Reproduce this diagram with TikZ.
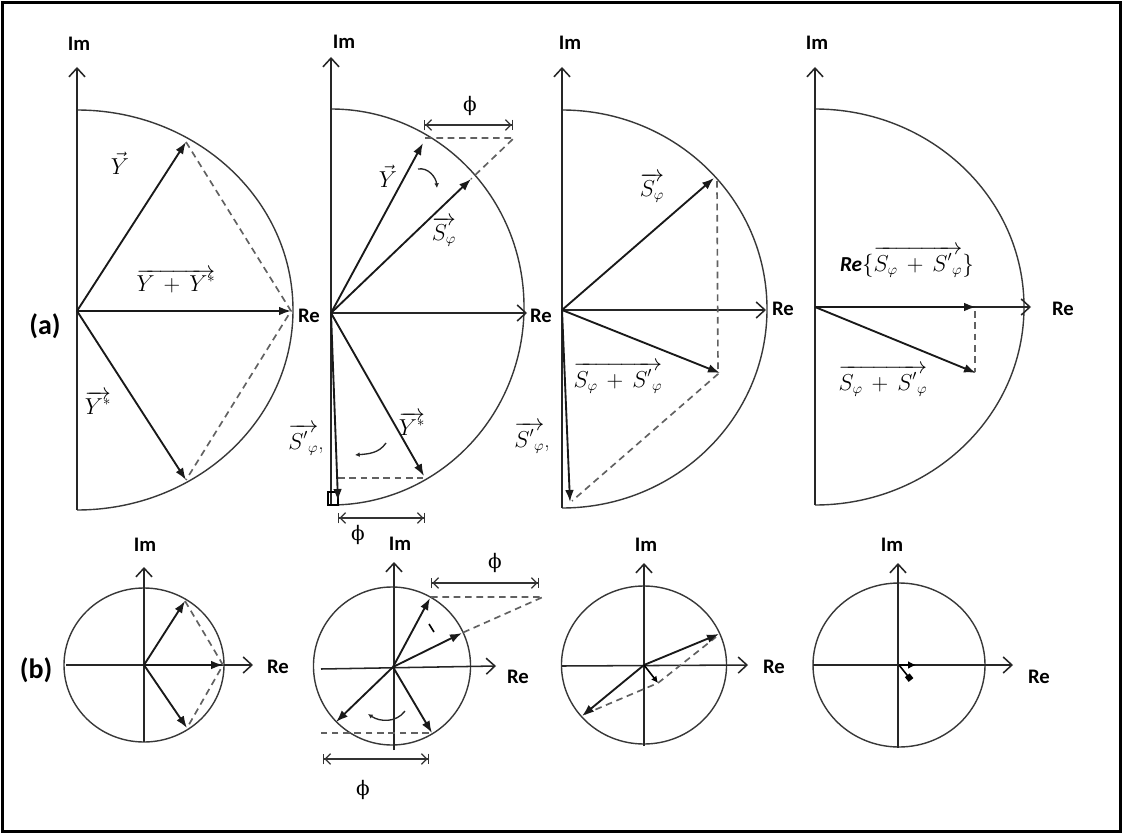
\documentclass[tikz,border=0pt]{standalone}
\usepackage{fontspec}
\usetikzlibrary{arrows.meta}
\newfontfamily\carl{Carlito}
\newfontfamily\phif{DejaVu Serif}
\begin{document}
\begin{tikzpicture}[x=0.75pt,y=-0.75pt,
  arcl/.style={line width=1.05pt,draw=black!78},
  axisl/.style={line width=1.15pt,draw=black!85,-{Straight Barb[length=6.5pt,width=12pt,line width=1.15pt]}},
  vec/.style={line width=1.4pt,draw=black!90,-{Latex[length=9pt,width=6.5pt]}},
  dsh/.style={line width=1.25pt,draw=black!62,dash pattern=on 5pt off 3.5pt},
  dimar/.style={line width=1pt,draw=black!80,{Bar[width=8pt]Straight Barb[length=4pt,width=8pt,line width=1pt]}-{Straight Barb[length=4pt,width=8pt,line width=1pt]Bar[width=8pt]}},
  rot/.style={line width=1pt,draw=black!85,-{Latex[length=3.5pt,width=3.5pt]}},
  axlab/.style={font=\carl\bfseries\fontsize{15.5}{17}\selectfont,inner sep=0pt},
  mlab/.style={font=\fontsize{16}{19}\selectfont,inner sep=0pt},
  philab/.style={font=\phif\fontsize{15}{18}\selectfont,inner sep=0pt}]
\useasboundingbox (0,0) rectangle (1123,834);
\fill[white] (0,0) rectangle (1123,834);
\draw[line width=2.2pt] (2.5,2.5) rectangle (1120.5,831.5);

% ===================== Panel (a)1 =====================
\coordinate (O1) at (77,311);
\coordinate (I1t) at (77,67);
\coordinate (I1b) at (77,510);
\coordinate (R1) at (291,311);
\coordinate (Y1) at (186,142);
\coordinate (Ys1) at (186,480);
\draw[arcl] (77,110) arc[start angle=90,end angle=-90,x radius=162pt,y radius=150pt];
\draw[axisl] (I1b) -- (I1t);
\draw[dsh] (Y1) -- (R1) -- (Ys1);
\draw[vec] (O1) -- (R1);
\draw[vec] (O1) -- (Y1);
\draw[vec] (O1) -- (Ys1);
\node[axlab] (im1) at (79,44) {Im};
\node[axlab] (re1) at (309,316) {Re};
\node[axlab,font=\carl\bfseries\fontsize{21}{23}\selectfont] (alab) at (45,326) {(a)};
\node[mlab] (lY1) at (120,163) {$\vec{Y}$};
\node[mlab] (lYY1) at (176,281) {$\overrightarrow{Y \mathbin{\,+\,} Y^{*}}$};
\node[mlab] (lYs1) at (98,403) {$\overrightarrow{Y^{*}}$};

% ===================== Panel (a)2 =====================
\coordinate (O2) at (331,313);
\coordinate (I2t) at (331,57);
\coordinate (I2b) at (331,505);
\coordinate (R2) at (527,313);
\coordinate (Y2) at (423,143);
\coordinate (S2) at (471,179);
\coordinate (Ys2) at (424,476);
\coordinate (Sp2) at (338,501);
\coordinate (D2a) at (425,138);
\coordinate (D2b) at (514,138);
\coordinate (D2c) at (338,478);
\coordinate (D2d) at (423,478);
\coordinate (M2a) at (424,125);
\coordinate (M2b) at (513,125);
\coordinate (M2c) at (338,518);
\coordinate (M2d) at (425,518);
\draw[arcl] (331,109) arc[start angle=90,end angle=-90,x radius=144.75pt,y radius=148.5pt];
\draw[axisl] (I2b) -- (I2t);
\draw[axisl] (O2) -- (R2);
\draw[line width=0.9pt] (328,492) rectangle (338,505);
\draw[dsh] (D2a) -- (D2b) -- (S2);
\draw[dsh] (D2c) -- (D2d);
\draw[vec] (O2) -- (Y2);
\draw[vec] (O2) -- (S2);
\draw[vec] (O2) -- (Ys2);
\draw[vec] (O2) -- (Sp2);
\draw[dimar] (M2a) -- (M2b);
\draw[dimar] (M2c) -- (M2d);
\coordinate (c2a) at (418,169); \coordinate (c2b) at (437,188);
\draw[rot] (c2a) to[out=10,in=95] (c2b);
\coordinate (c2c) at (386,443); \coordinate (c2d) at (355,455);
\draw[rot] (c2c) to[out=235,in=5] (c2d);
\node[axlab] (im2) at (344,42) {Im};
\node[axlab] (re2) at (541,316) {Re};
\node[philab] (ph2a) at (470,106) {ϕ};
\node[philab] (ph2b) at (358,535) {ϕ};
\node[mlab] (lY2) at (388,176) {$\vec{Y}$};
\node[mlab] (lS2) at (444,232) {$\overrightarrow{S_{\varphi}}$};
\node[mlab] (lYs2) at (412,424) {$\overrightarrow{Y^{*}}$};
\node[mlab] (lSp2) at (306,440) {$\overrightarrow{S'{}_{\varphi}}$,};

% ===================== Panel (a)3 =====================
\coordinate (O3) at (562,310);
\coordinate (I3t) at (562,67);
\coordinate (I3b) at (562,508);
\coordinate (R3) at (766,310);
\coordinate (S3) at (714,178);
\coordinate (Sum3) at (720,373);
\coordinate (Sp3) at (570,502);
\coordinate (D3a) at (717,181);
\coordinate (D3b) at (718,374);
\coordinate (D3c) at (572,501);
\draw[arcl] (562,110) arc[start angle=90,end angle=-90,x radius=153.75pt,y radius=149.25pt];
\draw[axisl] (I3b) -- (I3t);
\draw[axisl] (O3) -- (R3);
\draw[dsh] (D3a) -- (D3b) -- (D3c);
\draw[vec] (O3) -- (S3);
\draw[vec] (O3) -- (Sum3);
\draw[vec] (O3) -- (Sp3);
\node[axlab] (im3) at (570,43) {Im};
\node[axlab] (re3) at (783,309) {Re};
\node[mlab] (lS3) at (652,188) {$\overrightarrow{S_{\varphi}}$};
\node[mlab] (lSum3) at (618,378) {$\overrightarrow{S_{\varphi} \mathbin{\,+\,} S'{}_{\varphi}}$};
\node[mlab] (lSp3) at (532,438) {$\overrightarrow{S'{}_{\varphi}}$,};

% ===================== Panel (a)4 =====================
\coordinate (O4) at (815,307);
\coordinate (I4t) at (815,67);
\coordinate (I4b) at (815,505);
\coordinate (R4) at (1031,307);
\coordinate (Rs4) at (976,307);
\coordinate (Sum4) at (976,373);
\coordinate (D4a) at (975,311);
\coordinate (D4b) at (975,372);
\draw[arcl] (815,109) arc[start angle=90,end angle=-90,x radius=156.75pt,y radius=148.5pt];
\draw[axisl] (I4b) -- (I4t);
\draw[axisl] (O4) -- (R4);
\draw[dsh] (D4a) -- (D4b);
\draw[vec] (O4) -- (Rs4);
\draw[vec] (O4) -- (Sum4);
\node[axlab] (im4) at (817,43) {Im};
\node[axlab] (re4) at (1063,309) {Re};
\node[mlab] (lRe4) at (907,262) {{\carl\bfseries\itshape Re}$\{\overrightarrow{S_{\varphi} \mathbin{\,+\,} S'{}_{\varphi}}\}$};
\node[mlab] (lSum4) at (883,381) {$\overrightarrow{S_{\varphi} \mathbin{\,+\,} S'{}_{\varphi}}$};

% ===================== Panel (b)1 =====================
\coordinate (B1) at (144,665);
\coordinate (B1t) at (144,567);
\coordinate (B1b) at (144,742);
\coordinate (B1l) at (66,665);
\coordinate (B1r) at (253,665);
\coordinate (B1y) at (185,601);
\coordinate (B1s) at (223,665);
\coordinate (B1ys) at (187,728);
\draw[arcl] (B1) ellipse[x radius=60pt,y radius=57.75pt];
\draw[axisl] (B1b) -- (B1t);
\draw[axisl] (B1l) -- (B1r);
\draw[dsh] (B1y) -- (B1s) -- (B1ys);
\draw[vec] (B1) -- (B1y);
\draw[vec] (B1) -- (B1s);
\draw[vec] (B1) -- (B1ys);
\node[axlab] (im5) at (145,545) {Im};
\node[axlab] (re5) at (278,667) {Re};
\node[axlab,font=\carl\bfseries\fontsize{21}{23}\selectfont] (blab) at (36,670) {(b)};

% ===================== Panel (b)2 =====================
\coordinate (B2) at (393,667);
\coordinate (B2c) at (392,666);
\coordinate (B2t) at (394,562);
\coordinate (B2b) at (394,750);
\coordinate (B2l) at (321,669);
\coordinate (B2r) at (496,666);
\coordinate (B2y) at (430,598);
\coordinate (B2s) at (462,633);
\coordinate (B2ys) at (432,733);
\coordinate (B2sp) at (336,722);
\coordinate (E2a) at (431,597);
\coordinate (E2b) at (543,597);
\coordinate (E2c) at (429,733);
\coordinate (E2d) at (321,733);
\coordinate (N2a) at (431,583);
\coordinate (N2b) at (539,583);
\coordinate (N2c) at (323,759);
\coordinate (N2d) at (429,759);
\draw[arcl] (B2c) ellipse[x radius=58.9pt,y radius=59.25pt];
\draw[axisl] (B2b) -- (B2t);
\draw[axisl] (B2l) -- (B2r);
\draw[dsh] (E2a) -- (E2b) -- (B2s);
\draw[dsh] (E2c) -- (E2d);
\draw[vec] (B2) -- (B2y);
\draw[vec] (B2) -- (B2s);
\draw[vec] (B2) -- (B2ys);
\draw[vec] (B2) -- (B2sp);
\draw[dimar] (N2a) -- (N2b);
\draw[dimar] (N2c) -- (N2d);
\coordinate (t2a) at (429,624); \coordinate (t2b) at (434,632);
\draw[line width=1.2pt] (t2a) -- (t2b);
\coordinate (t2c) at (405,711); \coordinate (t2d) at (368,714);
\draw[rot] (t2c) .. controls (396,723) and (380,722) .. (t2d);
\node[axlab] (im6) at (400,544) {Im};
\node[axlab] (re6) at (518,677) {Re};
\node[philab] (ph6a) at (495,563) {ϕ};
\node[philab] (ph6b) at (363,790) {ϕ};

% ===================== Panel (b)3 =====================
\coordinate (B3) at (644,665);
\coordinate (B3t) at (644,563);
\coordinate (B3b) at (644,746);
\coordinate (B3l) at (562,666);
\coordinate (B3r) at (748,665);
\coordinate (B3s) at (719,634);
\coordinate (B3sp) at (582,716);
\coordinate (B3sum) at (658,683);
\coordinate (E3a) at (585,714);
\coordinate (E3b) at (716,637);
\draw[arcl] (B3) ellipse[x radius=61.9pt,y radius=59.25pt];
\draw[axisl] (B3b) -- (B3t);
\draw[axisl] (B3l) -- (B3r);
\draw[dsh] (E3a) -- (B3sum) -- (E3b);
\draw[vec] (B3) -- (B3s);
\draw[vec] (B3) -- (B3sp);
\draw[line width=1.2pt,-{Latex[length=5pt,width=5pt]}] (B3) -- (B3sum);
\node[axlab] (im7) at (646,545) {Im};
\node[axlab] (re7) at (774,667) {Re};

% ===================== Panel (b)4 =====================
\coordinate (B4) at (899,665);
\coordinate (B4t) at (898,563);
\coordinate (B4b) at (898,748);
\coordinate (B4l) at (813,665);
\coordinate (B4r) at (1013,665);
\coordinate (B4re) at (916,665);
\coordinate (B4sum) at (911,680);
\draw[arcl] (B4) ellipse[x radius=64.5pt,y radius=61.5pt];
\draw[axisl] (B4b) -- (B4t);
\draw[axisl] (B4l) -- (B4r);
\draw[line width=1.2pt,-{Latex[length=6pt,width=6pt]}] (B4) -- (B4re);
\draw[line width=1.2pt,-{Square[length=4.5pt,width=4.5pt]}] (B4) -- (B4sum);
\node[axlab] (im8) at (892,545) {Im};
\node[axlab] (re8) at (1039,677) {Re};
\end{tikzpicture}
\end{document}
